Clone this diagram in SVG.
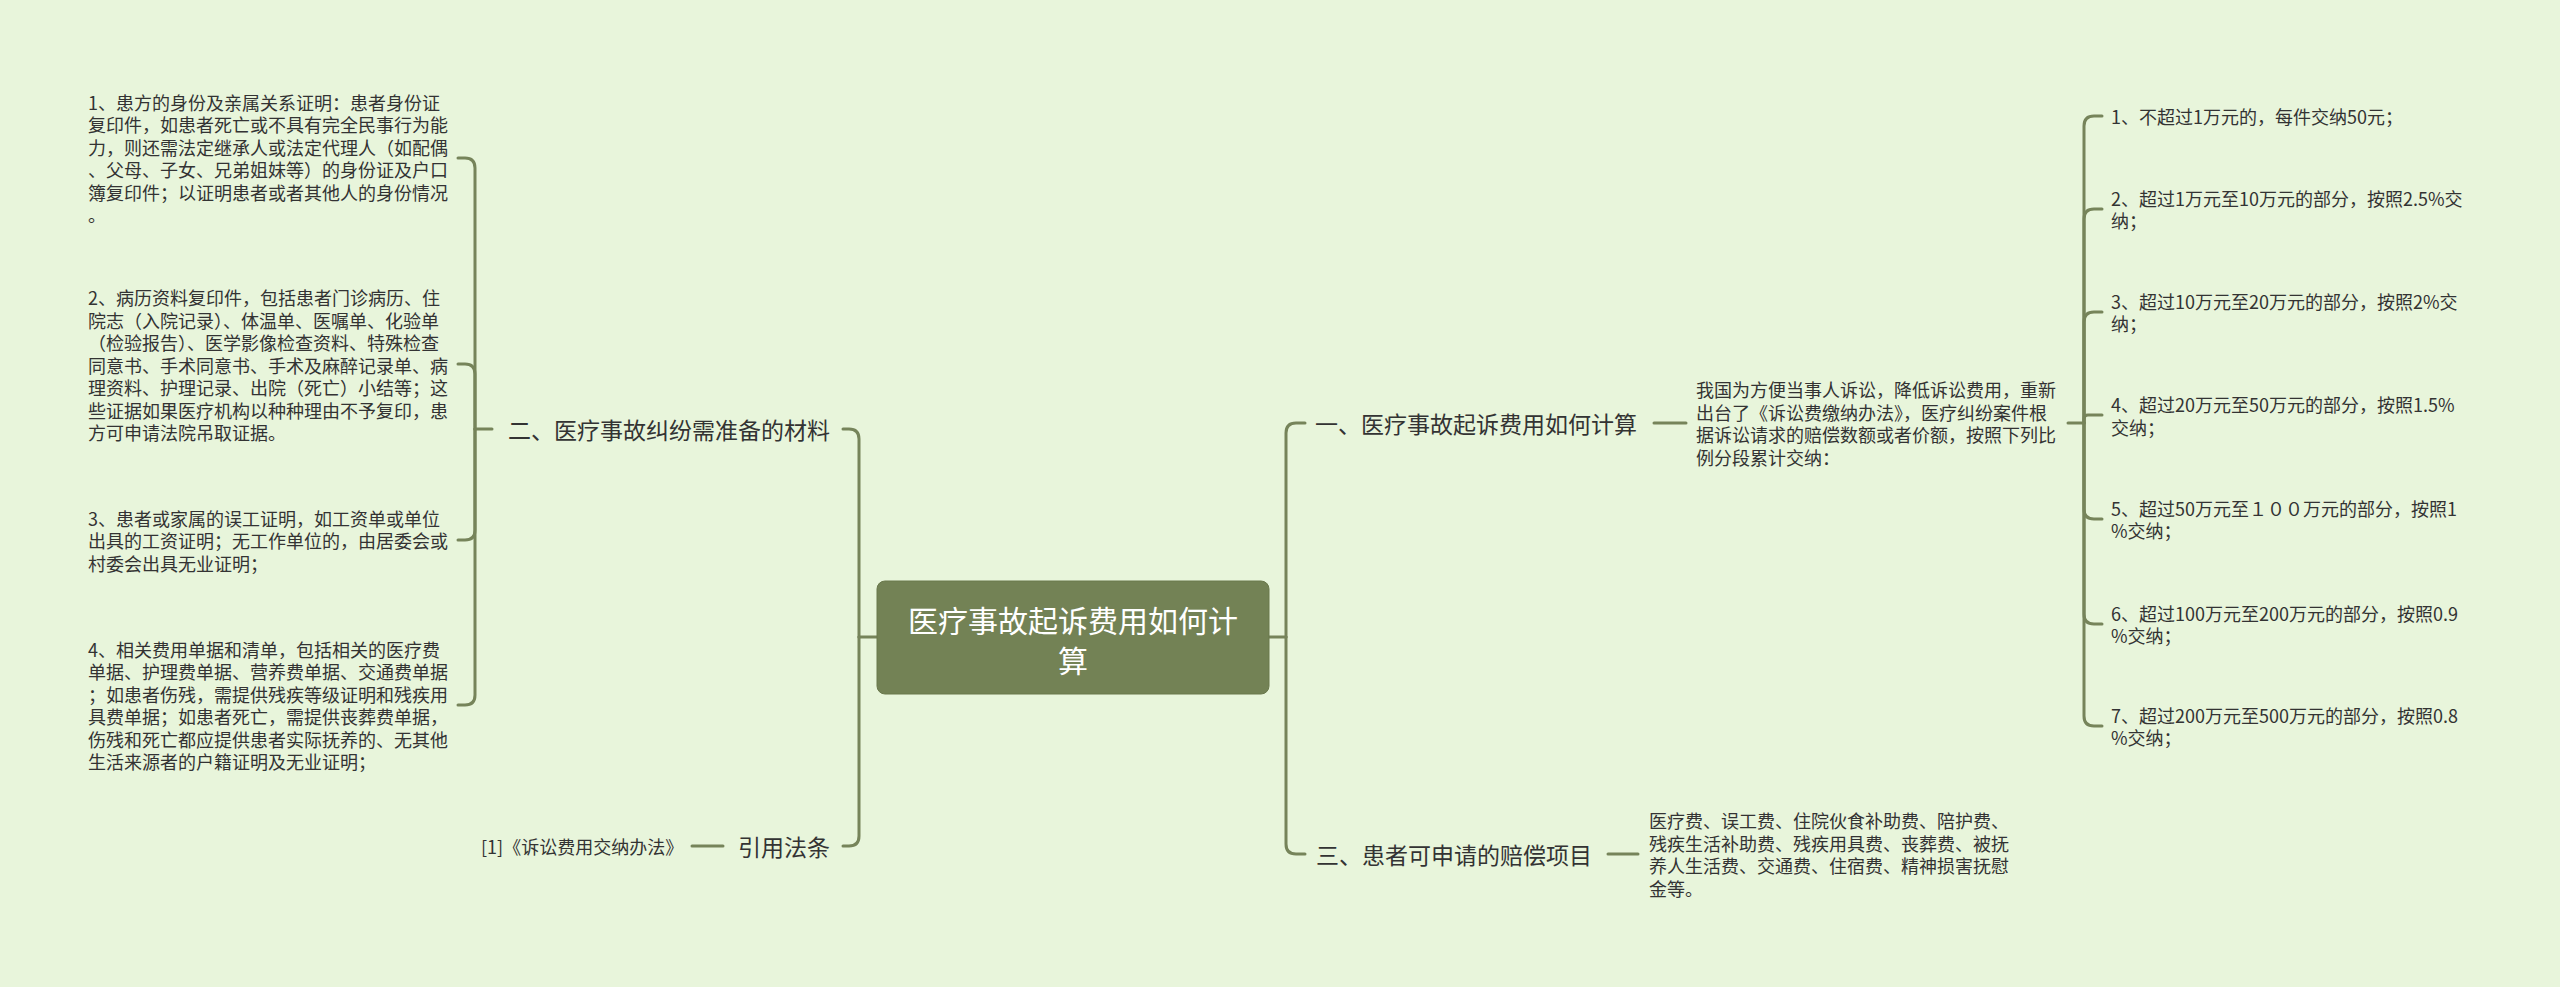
<svg xmlns="http://www.w3.org/2000/svg" width="2560" height="987" viewBox="0 0 2560 987">
<style>
.t{font-family:"Noto Sans CJK SC","Noto Sans",sans-serif;fill:#333333;dominant-baseline:central}
.s{font-size:18px}
.m{font-size:23px}
.r{font-size:30px;fill:#ffffff;text-anchor:middle}
.c{fill:none;stroke:#76845A;stroke-width:3;stroke-linecap:round}
</style>
<rect x="0" y="0" width="2560" height="987" fill="#E8F5DB"/>
<g id="connectors" class="c">
<path d="M1269,637 H1286"/>
<path d="M1286,637 V433 Q1286,423 1296,423 H1305"/>
<path d="M1286,637 V844 Q1286,854 1296,854 H1305"/>
<path d="M1654,423 H1686"/>
<path d="M1608,854 H1638"/>
<path d="M2068,423 H2084"/>
<path d="M2084,423 V126 Q2084,116 2094,116 H2102"/>
<path d="M2084,423 V219 Q2084,209 2094,209 H2102"/>
<path d="M2084,423 V322 Q2084,312 2094,312 H2102"/>
<path d="M2084,423 V419 Q2084,415 2088,415 H2102"/>
<path d="M2084,423 V509 Q2084,519 2094,519 H2102"/>
<path d="M2084,423 V614 Q2084,624 2094,624 H2102"/>
<path d="M2084,423 V716 Q2084,726 2094,726 H2102"/>
<path d="M877,637 H859"/>
<path d="M859,637 V439 Q859,429 849,429 H843"/>
<path d="M859,637 V836 Q859,846 849,846 H843"/>
<path d="M723,846 H692"/>
<path d="M492,429 H475"/>
<path d="M475,429 V168 Q475,158 465,158 H458"/>
<path d="M475,429 V374 Q475,364 465,364 H458"/>
<path d="M475,429 V530 Q475,540 465,540 H458"/>
<path d="M475,429 V695 Q475,705 465,705 H458"/>
</g>
<g id="root">
<rect x="877" y="581" width="392" height="113" rx="8" fill="#738255" stroke="#6A784C" stroke-width="1"/>
<text class="t r" x="1073" y="619">医疗事故起诉费用如何计</text>
<text class="t r" x="1073" y="659">算</text>
</g>
<g id="n1">
<text class="t m" x="1315" y="423">一、医疗事故起诉费用如何计算</text>
</g>
<g id="n1d">
<text class="t s" x="1696" y="389">我国为方便当事人诉讼，降低诉讼费用，重新</text>
<text class="t s" x="1696" y="412">出台了《诉讼费缴纳办法》，医疗纠纷案件根</text>
<text class="t s" x="1696" y="434">据诉讼请求的赔偿数额或者价额，按照下列比</text>
<text class="t s" x="1696" y="457">例分段累计交纳：</text>
</g>
<g id="r1"><text class="t s" x="2111" y="116">1、不超过1万元的，每件交纳50元；</text></g>
<g id="r2"><text class="t s" x="2111" y="198">2、超过1万元至10万元的部分，按照2.5%交</text><text class="t s" x="2111" y="220">纳；</text></g>
<g id="r3"><text class="t s" x="2111" y="301">3、超过10万元至20万元的部分，按照2%交</text><text class="t s" x="2111" y="323">纳；</text></g>
<g id="r4"><text class="t s" x="2111" y="404">4、超过20万元至50万元的部分，按照1.5%</text><text class="t s" x="2111" y="427">交纳；</text></g>
<g id="r5"><text class="t s" x="2111" y="508">5、超过50万元至１００万元的部分，按照1</text><text class="t s" x="2111" y="530">%交纳；</text></g>
<g id="r6"><text class="t s" x="2111" y="613">6、超过100万元至200万元的部分，按照0.9</text><text class="t s" x="2111" y="635">%交纳；</text></g>
<g id="r7"><text class="t s" x="2111" y="715">7、超过200万元至500万元的部分，按照0.8</text><text class="t s" x="2111" y="737">%交纳；</text></g>
<g id="n3">
<text class="t m" x="1316" y="854">三、患者可申请的赔偿项目</text>
</g>
<g id="n3d">
<text class="t s" x="1649" y="820">医疗费、误工费、住院伙食补助费、陪护费、</text>
<text class="t s" x="1649" y="843">残疾生活补助费、残疾用具费、丧葬费、被抚</text>
<text class="t s" x="1649" y="865">养人生活费、交通费、住宿费、精神损害抚慰</text>
<text class="t s" x="1649" y="888">金等。</text>
</g>
<g id="n2">
<text class="t m" x="830" y="429" text-anchor="end">二、医疗事故纠纷需准备的材料</text>
</g>
<g id="l1">
<text class="t s" x="88" y="102">1、患方的身份及亲属关系证明：患者身份证</text>
<text class="t s" x="88" y="124">复印件，如患者死亡或不具有完全民事行为能</text>
<text class="t s" x="88" y="147">力，则还需法定继承人或法定代理人（如配偶</text>
<text class="t s" x="88" y="169">、父母、子女、兄弟姐妹等）的身份证及户口</text>
<text class="t s" x="88" y="192">簿复印件；以证明患者或者其他人的身份情况</text>
<text class="t s" x="88" y="214">。</text>
</g>
<g id="l2">
<text class="t s" x="88" y="297">2、病历资料复印件，包括患者门诊病历、住</text>
<text class="t s" x="88" y="320">院志（入院记录）、体温单、医嘱单、化验单</text>
<text class="t s" x="88" y="342">（检验报告）、医学影像检查资料、特殊检查</text>
<text class="t s" x="88" y="365">同意书、手术同意书、手术及麻醉记录单、病</text>
<text class="t s" x="88" y="387">理资料、护理记录、出院（死亡）小结等；这</text>
<text class="t s" x="88" y="410">些证据如果医疗机构以种种理由不予复印，患</text>
<text class="t s" x="88" y="432">方可申请法院吊取证据。</text>
</g>
<g id="l3">
<text class="t s" x="88" y="518">3、患者或家属的误工证明，如工资单或单位</text>
<text class="t s" x="88" y="540">出具的工资证明；无工作单位的，由居委会或</text>
<text class="t s" x="88" y="563">村委会出具无业证明；</text>
</g>
<g id="l4">
<text class="t s" x="88" y="649">4、相关费用单据和清单，包括相关的医疗费</text>
<text class="t s" x="88" y="671">单据、护理费单据、营养费单据、交通费单据</text>
<text class="t s" x="88" y="694">；如患者伤残，需提供残疾等级证明和残疾用</text>
<text class="t s" x="88" y="716">具费单据；如患者死亡，需提供丧葬费单据，</text>
<text class="t s" x="88" y="739">伤残和死亡都应提供患者实际抚养的、无其他</text>
<text class="t s" x="88" y="761">生活来源者的户籍证明及无业证明；</text>
</g>
<g id="n4">
<text class="t m" x="830" y="846" text-anchor="end">引用法条</text>
</g>
<g id="n4d">
<text class="t s" x="481" y="846">[1]《诉讼费用交纳办法》</text>
</g>
</svg>
